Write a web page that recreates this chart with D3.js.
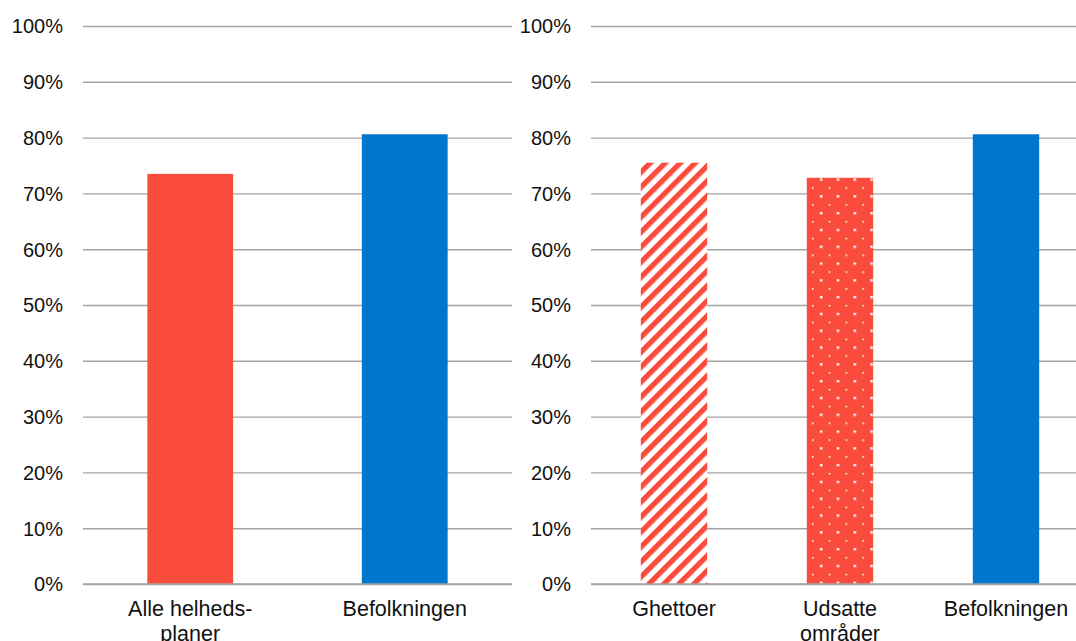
<!DOCTYPE html>
<html>
<head>
<meta charset="utf-8">
<script src="https://cdn.jsdelivr.net/npm/d3@7"></script>
<style>
html,body{margin:0;padding:0;background:#fff;}
svg{display:block;}
text{font-family:"Liberation Sans",Arial,sans-serif;fill:#111;}
</style>
</head>
<body>
<svg id="chart" width="1076" height="641"></svg>
<script>
// Data
const leftCategories = ["Alle helheds-\nplaner", "Befolkningen"];
const leftValues = [0.735, 0.806];
const leftFills = ["solid-red", "solid-blue"];

const rightCategories = ["Ghettoer", "Udsatte\nområder", "Befolkningen"];
const rightValues = [0.755, 0.728, 0.806];
const rightFills = ["stripes", "dots", "solid-blue"];

const yTicks = [0, 0.1, 0.2, 0.3, 0.4, 0.5, 0.6, 0.7, 0.8, 0.9, 1.0];

const RED = "#f94c3c";
const BLUE = "#0076cf";

const svg = d3.select("#chart");
const defs = svg.append("defs");

// stripes pattern "/"
const st = defs.append("pattern").attr("id", "stripes")
  .attr("patternUnits", "userSpaceOnUse")
  .attr("width", 10.6).attr("height", 10.6)
  .attr("patternTransform", "rotate(45)");
st.append("rect").attr("width", 10.6).attr("height", 10.6).attr("fill", "#fff");
st.append("rect").attr("width", 5.3).attr("height", 10.6).attr("fill", RED);

// dots pattern
const dp = defs.append("pattern").attr("id", "dots")
  .attr("patternUnits", "userSpaceOnUse")
  .attr("x", 4.5).attr("y", 2.5)
  .attr("width", 16.8).attr("height", 16.8);
dp.append("rect").attr("width", 16.8).attr("height", 16.8).attr("fill", RED);
dp.append("rect").attr("x", 1).attr("y", 0).attr("width", 1.6).attr("height", 1.6).attr("fill", "#fff");
dp.append("rect").attr("x", 9.1).attr("y", 7.9).attr("width", 2.4).attr("height", 2.4).attr("fill", "#fff");

const fillOf = f => f === "solid-red" ? RED : f === "solid-blue" ? BLUE : `url(#${f})`;

const y = d3.scaleLinear().domain([0, 1]).range([584, 26]);

function drawPanel(categories, values, fills, x0, x1, labelX) {
  const g = svg.append("g");
  const x = d3.scaleBand().domain(categories).range([x0, x1])
    .paddingInner(0.6).paddingOuter(0.3);

  // gridlines
  const grid = g.append("g").attr("transform", `translate(${x0},0)`)
    .call(d3.axisLeft(y).tickValues(yTicks).tickSize(-(x1 - x0)).tickFormat(""));
  grid.select(".domain").remove();
  grid.selectAll("line").attr("stroke", "#a3a3a3").attr("stroke-width", 1.4);

  // tick labels
  g.selectAll(".ylab").data(yTicks).join("text")
    .attr("class", "ylab")
    .attr("x", labelX)
    .attr("y", d => y(d) + 7.3)
    .attr("text-anchor", "end")
    .attr("font-size", 20)
    .text(d => d3.format(".0%")(d));

  // bars
  g.selectAll(".bar").data(categories).join("rect")
    .attr("class", "bar")
    .attr("x", d => x(d))
    .attr("width", x.bandwidth())
    .attr("y", (d, i) => y(values[i]))
    .attr("height", (d, i) => y(0) - y(values[i]))
    .attr("fill", (d, i) => fillOf(fills[i]));

  // baseline
  g.append("line").attr("x1", x0).attr("x2", x1).attr("y1", y(0)).attr("y2", y(0))
    .attr("stroke", "#a3a3a3").attr("stroke-width", 1.4);

  // category labels
  const lab = g.selectAll(".xlab").data(categories).join("text")
    .attr("class", "xlab")
    .attr("text-anchor", "middle")
    .attr("font-size", 21.5)
    .attr("x", d => x(d) + x.bandwidth() / 2)
    .attr("y", 616);
  lab.each(function(d) {
    const t = d3.select(this);
    d.split("\n").forEach((line, i) => {
      t.append("tspan").attr("x", x(d) + x.bandwidth() / 2)
        .attr("dy", i === 0 ? 0 : 25).text(line);
    });
  });
}

drawPanel(leftCategories, leftValues, leftFills, 83, 512, 63);
drawPanel(rightCategories, rightValues, rightFills, 591, 1089, 571);
</script>
</body>
</html>
